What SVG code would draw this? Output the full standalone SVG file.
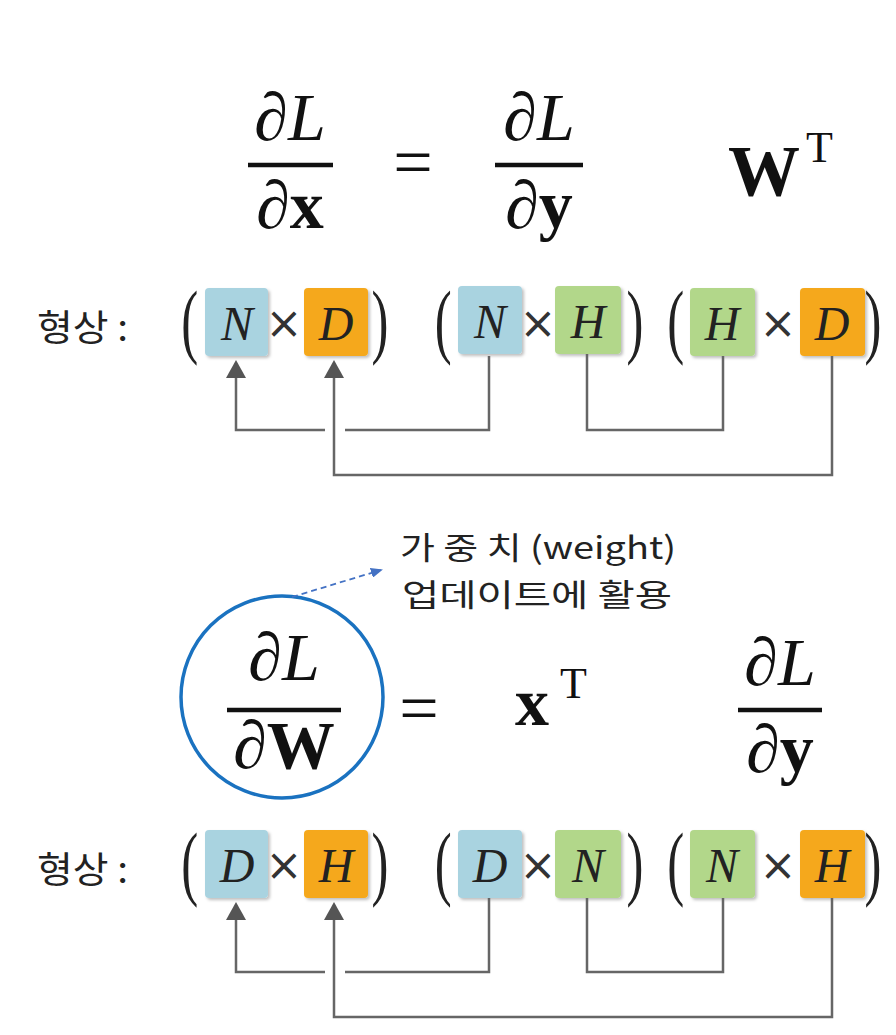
<svg xmlns="http://www.w3.org/2000/svg" width="896" height="1035" viewBox="0 0 896 1035">
<style>
.m{font-family:"Liberation Serif","DejaVu Serif",serif;fill:#111}
.it{font-style:italic}
.b{font-weight:bold}
.ko{font-family:"Noto Sans CJK KR","Noto Sans",sans-serif;fill:#222}
.bx{font-family:"Liberation Serif","DejaVu Serif",serif;font-style:italic;font-size:48px;fill:#222;text-anchor:middle}
.par{font-family:"Liberation Serif","DejaVu Serif",serif;font-size:82px;fill:#222;text-anchor:middle}
.tm{font-family:"DejaVu Sans","Liberation Sans",sans-serif;font-size:44px;fill:#333;text-anchor:middle}
.blue{fill:#A9D3E0}
.org{fill:#F5A81C}
.grn{fill:#B2D78A}
.conn{fill:none;stroke:#666;stroke-width:2.5}
.bar{stroke:#111;stroke-width:4.5}
</style>
<defs>
<filter id="sh" x="-10%" y="-10%" width="130%" height="130%">
<feDropShadow dx="2" dy="2" stdDeviation="1.5" flood-color="#000" flood-opacity="0.25"/>
</filter>
<marker id="bh" markerWidth="12" markerHeight="10" refX="10" refY="5" orient="auto" markerUnits="userSpaceOnUse">
<path d="M0,0 L12,5 L0,10 z" fill="#4472C4"/>
</marker>
</defs>

<g id="eq1">
<text class="m it" x="290" y="140" font-size="68" text-anchor="middle">∂L</text>
<line class="bar" x1="248" y1="165" x2="333" y2="165"/>
<text class="m" x="290" y="228" font-size="68" text-anchor="middle"><tspan class="it">∂</tspan><tspan class="b">x</tspan></text>
<text class="m" x="413" y="186" font-size="70" text-anchor="middle">=</text>
<text class="m it" x="539" y="140" font-size="68" text-anchor="middle">∂L</text>
<line class="bar" x1="495" y1="165" x2="583" y2="165"/>
<text class="m" x="539" y="228" font-size="68" text-anchor="middle"><tspan class="it">∂</tspan><tspan class="b">y</tspan></text>
<text class="m b" x="728" y="195" font-size="72">W</text>
<text class="m" x="806" y="162" font-size="44">T</text>
</g>

<g id="shape1">
<text class="ko" x="37" y="341" font-size="36" textLength="91" lengthAdjust="spacingAndGlyphs">형상 :</text>
<g transform="translate(0,348) scale(0.62,1)">
<text class="par" x="306" y="0">(</text>
<text class="par" x="613" y="0">)</text>
<text class="par" x="715" y="0">(</text>
<text class="par" x="1024" y="0">)</text>
<text class="par" x="1090" y="0">(</text>
<text class="par" x="1408" y="0">)</text>
</g>
<g id="n1" filter="url(#sh)"><rect class="blue" x="205" y="288" width="63" height="68" rx="4"/></g>
<text class="bx" x="237" y="340">N</text>
<text class="tm" x="284" y="338">×</text>
<g id="d1" filter="url(#sh)"><rect class="org" x="304" y="288" width="64" height="68" rx="4"/></g>
<text class="bx" x="336" y="340">D</text>
<g id="n2" filter="url(#sh)"><rect class="blue" x="458" y="286" width="64" height="68" rx="4"/></g>
<text class="bx" x="490" y="338">N</text>
<text class="tm" x="538" y="338">×</text>
<g id="h1" filter="url(#sh)"><rect class="grn" x="555" y="286" width="66" height="68" rx="4"/></g>
<text class="bx" x="588" y="338">H</text>
<g id="h2" filter="url(#sh)"><rect class="grn" x="690" y="288" width="65" height="68" rx="4"/></g>
<text class="bx" x="722" y="340">H</text>
<text class="tm" x="778" y="338">×</text>
<g id="d2" filter="url(#sh)"><rect class="org" x="800" y="288" width="65" height="68" rx="4"/></g>
<text class="bx" x="832" y="340">D</text>
</g>

<g id="connectors1">
<path class="conn" d="M236,376 V430 H325 M345,430 H489 V356"/>
<path class="conn" d="M334,376 V475 H832 V356"/>
<path class="conn" d="M587,354 V430 H723 V356"/>
<path d="M236,360 L226,378 L246,378 z" fill="#555"/>
<path d="M334,360 L324,378 L344,378 z" fill="#555"/>
</g>

<g id="note">
<text class="ko" x="400" y="559" font-size="31" textLength="276" lengthAdjust="spacingAndGlyphs">가 중 치 (weight)</text>
<text class="ko" x="402" y="606" font-size="31" textLength="270" lengthAdjust="spacingAndGlyphs">업데이트에 활용</text>
</g>

<g id="eq2">
<circle cx="282" cy="697" r="101" fill="none" stroke="#1A72C0" stroke-width="3.5"/>
<text class="m it" x="284" y="680" font-size="68" text-anchor="middle">∂L</text>
<line class="bar" x1="227" y1="710" x2="341" y2="710"/>
<text class="m" x="284" y="768" font-size="68" text-anchor="middle"><tspan class="it">∂</tspan><tspan class="b">W</tspan></text>
<text class="m" x="419" y="732" font-size="70" text-anchor="middle">=</text>
<text class="m b" x="515" y="725" font-size="68">x</text>
<text class="m" x="560" y="698" font-size="44">T</text>
<text class="m it" x="780" y="685" font-size="68" text-anchor="middle">∂L</text>
<line class="bar" x1="738" y1="710" x2="822" y2="710"/>
<text class="m" x="780" y="772" font-size="68" text-anchor="middle"><tspan class="it">∂</tspan><tspan class="b">y</tspan></text>
</g>

<g id="connectors-note">
<line x1="292" y1="597" x2="381" y2="570" stroke="#4472C4" stroke-width="1.8" stroke-dasharray="6,4" marker-end="url(#bh)"/>
</g>

<g id="shape2">
<text class="ko" x="37" y="883" font-size="36" textLength="91" lengthAdjust="spacingAndGlyphs">형상 :</text>
<g transform="translate(0,890) scale(0.62,1)">
<text class="par" x="306" y="0">(</text>
<text class="par" x="613" y="0">)</text>
<text class="par" x="715" y="0">(</text>
<text class="par" x="1024" y="0">)</text>
<text class="par" x="1090" y="0">(</text>
<text class="par" x="1408" y="0">)</text>
</g>
<g id="d3" filter="url(#sh)"><rect class="blue" x="205" y="830" width="63" height="68" rx="4"/></g>
<text class="bx" x="237" y="882">D</text>
<text class="tm" x="284" y="880">×</text>
<g id="h3" filter="url(#sh)"><rect class="org" x="304" y="830" width="64" height="68" rx="4"/></g>
<text class="bx" x="336" y="882">H</text>
<g id="d4" filter="url(#sh)"><rect class="blue" x="458" y="830" width="64" height="68" rx="4"/></g>
<text class="bx" x="490" y="882">D</text>
<text class="tm" x="538" y="880">×</text>
<g id="n3" filter="url(#sh)"><rect class="grn" x="555" y="830" width="66" height="68" rx="4"/></g>
<text class="bx" x="588" y="882">N</text>
<g id="n4" filter="url(#sh)"><rect class="grn" x="690" y="830" width="65" height="68" rx="4"/></g>
<text class="bx" x="722" y="882">N</text>
<text class="tm" x="778" y="880">×</text>
<g id="h4" filter="url(#sh)"><rect class="org" x="800" y="830" width="65" height="68" rx="4"/></g>
<text class="bx" x="832" y="882">H</text>
</g>

<g id="connectors2">
<path class="conn" d="M236,918 V972 H325 M345,972 H489 V898"/>
<path class="conn" d="M334,918 V1017 H832 V898"/>
<path class="conn" d="M587,898 V972 H723 V898"/>
<path d="M236,902 L226,920 L246,920 z" fill="#555"/>
<path d="M334,902 L324,920 L344,920 z" fill="#555"/>
</g>
</svg>
